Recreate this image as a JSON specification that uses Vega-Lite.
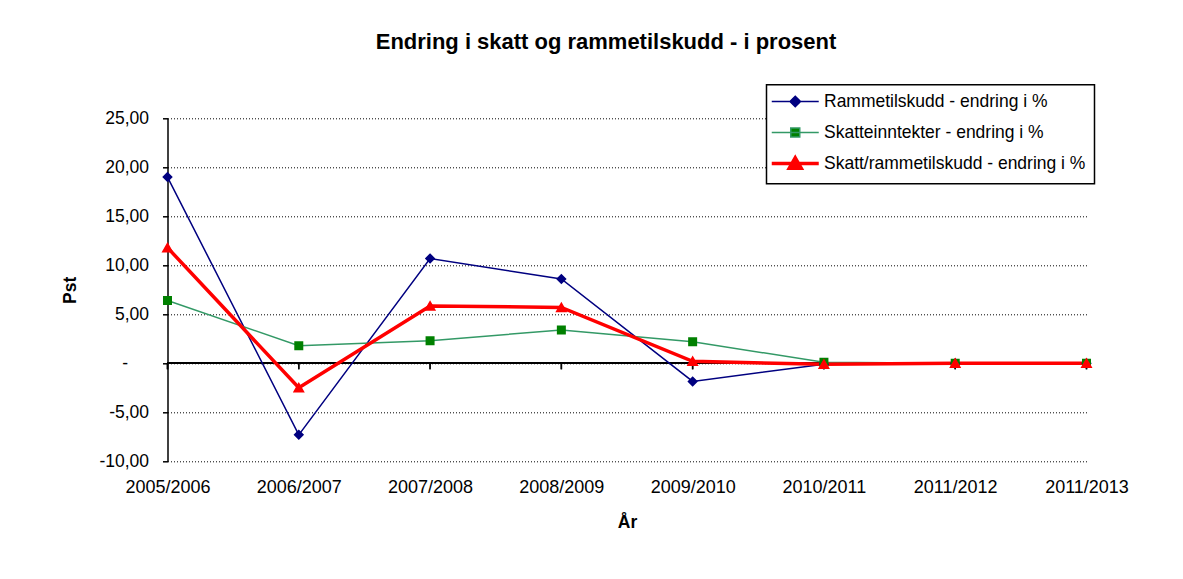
{
  "$schema": "https://vega.github.io/schema/vega-lite/v6.json",
  "autosize": {"type": "none"},
  "padding": {"left": 167.5, "top": 118.3, "right": 96, "bottom": 118},
  "width": 919,
  "height": 343,
  "background": "white",
  "title": {
    "text": "Endring i skatt og rammetilskudd - i prosent",
    "font": "Liberation Sans",
    "fontSize": 22,
    "fontWeight": "bold",
    "color": "black",
    "anchor": "middle",
    "dx": -21,
    "offset": 30
  },
  "data": {
    "values": [
      {"aar": "2005/2006", "serie": "Rammetilskudd - endring i %", "pst": 19.0},
      {"aar": "2006/2007", "serie": "Rammetilskudd - endring i %", "pst": -7.3},
      {"aar": "2007/2008", "serie": "Rammetilskudd - endring i %", "pst": 10.7},
      {"aar": "2008/2009", "serie": "Rammetilskudd - endring i %", "pst": 8.6},
      {"aar": "2009/2010", "serie": "Rammetilskudd - endring i %", "pst": -1.85},
      {"aar": "2010/2011", "serie": "Rammetilskudd - endring i %", "pst": -0.1},
      {"aar": "2011/2012", "serie": "Rammetilskudd - endring i %", "pst": 0.0},
      {"aar": "2011/2013", "serie": "Rammetilskudd - endring i %", "pst": 0.0},
      {"aar": "2005/2006", "serie": "Skatteinntekter - endring i %", "pst": 6.4},
      {"aar": "2006/2007", "serie": "Skatteinntekter - endring i %", "pst": 1.8},
      {"aar": "2007/2008", "serie": "Skatteinntekter - endring i %", "pst": 2.3},
      {"aar": "2008/2009", "serie": "Skatteinntekter - endring i %", "pst": 3.4},
      {"aar": "2009/2010", "serie": "Skatteinntekter - endring i %", "pst": 2.2},
      {"aar": "2010/2011", "serie": "Skatteinntekter - endring i %", "pst": 0.1},
      {"aar": "2011/2012", "serie": "Skatteinntekter - endring i %", "pst": 0.0},
      {"aar": "2011/2013", "serie": "Skatteinntekter - endring i %", "pst": 0.0},
      {"aar": "2005/2006", "serie": "Skatt/rammetilskudd - endring i %", "pst": 11.8},
      {"aar": "2006/2007", "serie": "Skatt/rammetilskudd - endring i %", "pst": -2.5},
      {"aar": "2007/2008", "serie": "Skatt/rammetilskudd - endring i %", "pst": 5.85},
      {"aar": "2008/2009", "serie": "Skatt/rammetilskudd - endring i %", "pst": 5.7},
      {"aar": "2009/2010", "serie": "Skatt/rammetilskudd - endring i %", "pst": 0.2},
      {"aar": "2010/2011", "serie": "Skatt/rammetilskudd - endring i %", "pst": -0.1},
      {"aar": "2011/2012", "serie": "Skatt/rammetilskudd - endring i %", "pst": 0.0},
      {"aar": "2011/2013", "serie": "Skatt/rammetilskudd - endring i %", "pst": 0.0}
    ]
  },
  "encoding": {
    "x": {
      "field": "aar",
      "type": "nominal",
      "sort": null,
      "scale": {"type": "point", "padding": 0},
      "axis": {
        "title": "År",
        "labelAngle": 0,
        "labelFontSize": 18,
        "domain": false,
        "ticks": false,
        "tickSize": 0,
        "grid": false,
        "labelPadding": 17,
        "titlePadding": 17
      }
    },
    "y": {
      "field": "pst",
      "type": "quantitative",
      "scale": {"domain": [-10, 25], "nice": false, "zero": false},
      "axis": {
        "title": "Pst",
        "values": [-10, -5, 0, 5, 10, 15, 20, 25],
        "labelExpr": "datum.value == 0 ? '-' : replace(replace(format(datum.value, '.2f'), '.', ','), '\u2212', '-')",
        "domain": true,
        "domainColor": "black",
        "domainWidth": 1.5,
        "ticks": true,
        "tickColor": "black",
        "tickSize": 5,
        "tickWidth": 1.5,
        "labelPadding": {"condition": {"test": "datum.value === 0", "value": 35}, "value": 14},
        "titlePadding": 19,
        "grid": true,
        "gridColor": "black",
        "gridDash": [1, 2],
        "gridWidth": 1,
        "gridOpacity": 1
      }
    }
  },
  "layer": [
    {
      "mark": {"type": "rule", "color": "black", "strokeWidth": 1.5},
      "encoding": {"y": {"datum": 0}, "x": null}
    },
    {
      "mark": {"type": "tick", "orient": "vertical", "size": 6, "yOffset": 3, "color": "black", "thickness": 1.5},
      "encoding": {"y": {"datum": 0}}
    },
    {
      "mark": {"type": "line", "strokeJoin": "miter"},
      "encoding": {
        "color": {
          "field": "serie",
          "type": "nominal",
          "title": null,
          "scale": {
            "domain": ["Rammetilskudd - endring i %", "Skatteinntekter - endring i %", "Skatt/rammetilskudd - endring i %"],
            "range": ["#000080", "#339966", "#ff0000"]
          },
          "legend": {
            "title": null,
            "orient": "none",
            "legendX": 599,
            "legendY": -33.5,
            "strokeColor": "black",
            "fillColor": "white",
            "padding": 8,
            "gridAlign": "all",
            "symbolOffset": 12,
            "labelOffset": 20,
            "rowPadding": 6,
            "symbolSize": 100,
            "labelFont": "Liberation Sans",
            "labelFontSize": 17.5,
            "labelColor": "black",
            "labelLimit": 400,
            "symbolOpacity": 1
          }
        },
        "strokeWidth": {
          "field": "serie",
          "type": "ordinal",
          "title": null,
          "scale": {
            "type": "ordinal",
            "domain": ["Rammetilskudd - endring i %", "Skatteinntekter - endring i %", "Skatt/rammetilskudd - endring i %"],
            "range": [1.5, 1.5, 3.5]
          }
        }
      }
    },
    {
      "mark": {"type": "point", "filled": true, "opacity": 1, "size": 100, "strokeWidth": 0},
      "encoding": {
        "fill": {
          "field": "serie",
          "type": "nominal",
          "title": null,
          "scale": {
            "domain": ["Rammetilskudd - endring i %", "Skatteinntekter - endring i %", "Skatt/rammetilskudd - endring i %"],
            "range": ["#000080", "#008000", "#ff0000"]
          }
        },
        "shape": {
          "field": "serie",
          "type": "nominal",
          "title": null,
          "scale": {
            "domain": ["Rammetilskudd - endring i %", "Skatteinntekter - endring i %", "Skatt/rammetilskudd - endring i %"],
            "range": [
              "M-4.7,0H4.7M0,-1.05L1.05,0L0,1.05L-1.05,0Z",
              "M-4.7,0H4.7M-0.9,-0.9H0.9V0.9H-0.9Z",
              "M-4.7,0H4.7M0,-1.15L1.2,0.95H-1.2Z"
            ]
          }
        }
      }
    }
  ],
  "config": {
    "view": {"stroke": null},
    "legend": {"strokeWidth": 1.5},
    "axis": {
      "labelFont": "Liberation Sans",
      "labelFontSize": 17.5,
      "labelColor": "black",
      "titleFont": "Liberation Sans",
      "titleFontSize": 17.5,
      "titleFontWeight": "bold",
      "titleColor": "black"
    }
  }
}
